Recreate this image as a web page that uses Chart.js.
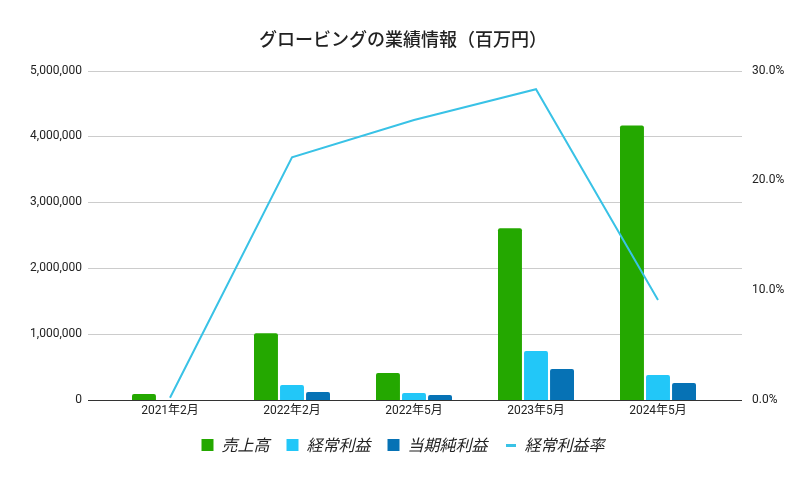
<!DOCTYPE html>
<html lang="ja">
<head>
<meta charset="utf-8">
<script src="https://cdn.jsdelivr.net/npm/chart.js@4"></script>
<style>
  html, body { margin: 0; padding: 0; background: #fff; }
  #wrap { width: 806px; height: 479px; }
</style>
</head>
<body>
<div id="wrap"><canvas id="chart"></canvas></div>
<script>
    'use strict';

    // Data
    var periods = ['2021年2月', '2022年2月', '2022年5月', '2023年5月', '2024年5月'];
    var sales = [90000, 1015000, 409000, 2606000, 4167000];          // 売上高
    var ordinaryProfit = [0, 227000, 106000, 742000, 379000];       // 経常利益
    var netProfit = [0, 120000, 76000, 470000, 258000];             // 当期純利益
    var ordinaryMargin = [0.2, 22.1, 25.5, 28.3, 9.1];              // 経常利益率 (%)
    var leftTicks = [0, 1000000, 2000000, 3000000, 4000000, 5000000];
    var rightTicks = [0, 10, 20, 30];

    var FONT = '"Noto Sans CJK JP", Roboto, "Liberation Sans", sans-serif';
    var TICK_FONT = 'Roboto, "Noto Sans CJK JP", sans-serif';

    // small swatch used as the legend marker of the line series
    var lineSwatch = document.createElement('canvas');
    lineSwatch.width = 10;
    lineSwatch.height = 3;
    var sctx = lineSwatch.getContext('2d');
    sctx.fillStyle = '#39c2e6';
    sctx.fillRect(0, 0, 10, 3);

    // gridlines run a bit wider than the category area
    var wideGrid = {
        id: 'wideGrid',
        beforeDatasetsDraw: function (chart) {
            var ctx = chart.ctx, area = chart.chartArea, y = chart.scales.y;
            ctx.save();
            ctx.strokeStyle = '#cccccc';
            ctx.lineWidth = 1;
            leftTicks.forEach(function (v) {
                if (v === 0) return;
                var py = Math.round(y.getPixelForValue(v)) + 0.5;
                ctx.beginPath();
                ctx.moveTo(area.left - 21, py);
                ctx.lineTo(area.right + 23, py);
                ctx.stroke();
            });
            ctx.restore();
        },
        afterDatasetsDraw: function (chart) {
            var ctx = chart.ctx, area = chart.chartArea, y = chart.scales.y;
            var py = Math.round(y.getPixelForValue(0)) + 0.5;
            ctx.save();
            ctx.strokeStyle = '#333333';
            ctx.lineWidth = 1;
            ctx.beginPath();
            ctx.moveTo(area.left - 21, py);
            ctx.lineTo(area.right + 23, py);
            ctx.stroke();
            ctx.restore();
        }
    };

    var barShape = {
        borderRadius: { topLeft: 2, topRight: 2 },
        borderSkipped: 'start',
        categoryPercentage: 0.64,
        barPercentage: 0.92,
        order: 1
    };

    new Chart(document.getElementById('chart'), {
        type: 'bar',
        data: {
            labels: periods,
            datasets: [
                Object.assign({
                    label: '売上高', data: sales,
                    backgroundColor: '#24a800', pointStyle: 'rect', yAxisID: 'y'
                }, barShape),
                Object.assign({
                    label: '経常利益', data: ordinaryProfit,
                    backgroundColor: '#22c7f8', pointStyle: 'rect', yAxisID: 'y'
                }, barShape),
                Object.assign({
                    label: '当期純利益', data: netProfit,
                    backgroundColor: '#0672b5', pointStyle: 'rect', yAxisID: 'y'
                }, barShape),
                {
                    type: 'line',
                    label: '経常利益率',
                    data: ordinaryMargin,
                    yAxisID: 'y1',
                    borderColor: '#39c2e6',
                    backgroundColor: '#39c2e6',
                    borderWidth: 2,
                    pointRadius: 0,
                    pointHoverRadius: 0,
                    pointStyle: lineSwatch,
                    tension: 0,
                    order: 0
                }
            ]
        },
        options: {
            responsive: true,
            maintainAspectRatio: false,
            animation: false,
            layout: { padding: { left: 0, right: 0, top: 0, bottom: 16 } },
            plugins: {
                title: {
                    display: true,
                    text: 'グロービングの業績情報（百万円）',
                    color: '#222222',
                    font: { family: FONT, size: 18, weight: '500' },
                    padding: { top: 28, bottom: 21 }
                },
                legend: {
                    position: 'bottom',
                    labels: {
                        usePointStyle: true,
                        boxWidth: 12,
                        boxHeight: 12,
                        padding: 17,
                        color: '#222222',
                        font: { family: FONT, size: 16, style: 'italic' },
                        sort: function (a, b) { return a.datasetIndex - b.datasetIndex; }
                    }
                },
                tooltip: { enabled: false }
            },
            scales: {
                x: {
                    offset: true,
                    grid: { display: false, drawTicks: false },
                    border: { display: false },
                    ticks: {
                        color: '#222222',
                        font: { family: TICK_FONT, size: 12 },
                        padding: 4
                    },
                    afterFit: function (scale) { scale.height = 20; }
                },
                y: {
                    position: 'left',
                    min: 0,
                    max: 5000000,
                    grid: { display: false, drawTicks: false },
                    border: { display: false },
                    afterBuildTicks: function (scale) {
                        scale.ticks = leftTicks.map(function (v) { return { value: v }; });
                    },
                    ticks: {
                        color: '#222222',
                        font: { family: TICK_FONT, size: 12 },
                        padding: 27,
                        callback: function (v) { return Number(v).toLocaleString('en-US'); }
                    },
                    afterFit: function (scale) { scale.width = 109; }
                },
                y1: {
                    position: 'right',
                    min: 0,
                    max: 30,
                    grid: { display: false, drawTicks: false },
                    border: { display: false },
                    afterBuildTicks: function (scale) {
                        scale.ticks = rightTicks.map(function (v) { return { value: v }; });
                    },
                    ticks: {
                        color: '#222222',
                        font: { family: TICK_FONT, size: 12 },
                        padding: 33,
                        callback: function (v) { return Number(v).toFixed(1) + '%'; }
                    },
                    afterFit: function (scale) { scale.width = 87; }
                }
            }
        },
        plugins: [wideGrid]
    });
</script>
</body>
</html>
